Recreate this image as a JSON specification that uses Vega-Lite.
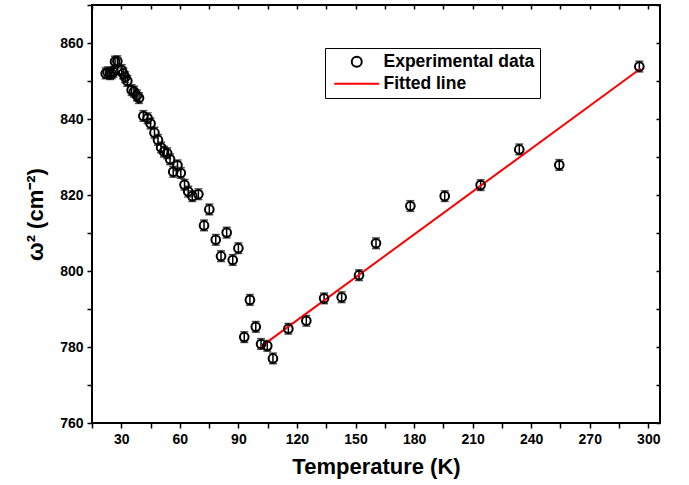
{
  "$schema": "https://vega.github.io/schema/vega-lite/v6.json",
  "width": 568,
  "height": 418,
  "autosize": {"type": "none"},
  "padding": {"left": 92, "top": 5, "right": 29, "bottom": 62},
  "background": "white",
  "config": {
    "view": {"stroke": "black", "strokeWidth": 2},
    "font": "Liberation Sans",
    "axis": {"grid": false, "domain": false, "tickColor": "black", "tickWidth": 1.5, "labelColor": "black", "titleColor": "black", "labelFont": "Liberation Sans", "titleFont": "Liberation Sans", "labelFontWeight": "bold", "titleFontWeight": "bold"}
  },
  "datasets": {
    "exp": [
      {"T": 22.0, "w": 852.0, "err": 1.4, "series": "Experimental data"},
      {"T": 23.0, "w": 852.3, "err": 1.4, "series": "Experimental data"},
      {"T": 24.2, "w": 851.8, "err": 1.4, "series": "Experimental data"},
      {"T": 25.1, "w": 852.0, "err": 1.4, "series": "Experimental data"},
      {"T": 26.0, "w": 852.4, "err": 1.4, "series": "Experimental data"},
      {"T": 26.8, "w": 855.1, "err": 1.4, "series": "Experimental data"},
      {"T": 28.0, "w": 855.2, "err": 1.4, "series": "Experimental data"},
      {"T": 30.2, "w": 852.9, "err": 1.4, "series": "Experimental data"},
      {"T": 31.0, "w": 852.0, "err": 1.4, "series": "Experimental data"},
      {"T": 32.0, "w": 851.0, "err": 1.4, "series": "Experimental data"},
      {"T": 33.1, "w": 850.0, "err": 1.4, "series": "Experimental data"},
      {"T": 35.3, "w": 847.6, "err": 1.4, "series": "Experimental data"},
      {"T": 36.5, "w": 847.2, "err": 1.4, "series": "Experimental data"},
      {"T": 38.0, "w": 846.2, "err": 1.4, "series": "Experimental data"},
      {"T": 39.1, "w": 845.5, "err": 1.4, "series": "Experimental data"},
      {"T": 41.3, "w": 840.8, "err": 1.4, "series": "Experimental data"},
      {"T": 43.5, "w": 840.2, "err": 1.4, "series": "Experimental data"},
      {"T": 45.0, "w": 838.8, "err": 1.4, "series": "Experimental data"},
      {"T": 47.0, "w": 836.4, "err": 1.4, "series": "Experimental data"},
      {"T": 48.8, "w": 834.5, "err": 1.4, "series": "Experimental data"},
      {"T": 50.4, "w": 832.5, "err": 1.4, "series": "Experimental data"},
      {"T": 51.9, "w": 831.4, "err": 1.4, "series": "Experimental data"},
      {"T": 53.5, "w": 831.0, "err": 1.4, "series": "Experimental data"},
      {"T": 55.0, "w": 829.4, "err": 1.4, "series": "Experimental data"},
      {"T": 56.6, "w": 826.1, "err": 1.4, "series": "Experimental data"},
      {"T": 58.8, "w": 827.8, "err": 1.4, "series": "Experimental data"},
      {"T": 60.5, "w": 825.8, "err": 1.4, "series": "Experimental data"},
      {"T": 62.4, "w": 822.7, "err": 1.4, "series": "Experimental data"},
      {"T": 64.3, "w": 820.9, "err": 1.4, "series": "Experimental data"},
      {"T": 66.4, "w": 819.7, "err": 1.4, "series": "Experimental data"},
      {"T": 69.5, "w": 820.2, "err": 1.4, "series": "Experimental data"},
      {"T": 72.4, "w": 812.0, "err": 1.4, "series": "Experimental data"},
      {"T": 75.1, "w": 816.2, "err": 1.4, "series": "Experimental data"},
      {"T": 78.4, "w": 808.2, "err": 1.4, "series": "Experimental data"},
      {"T": 81.1, "w": 803.9, "err": 1.4, "series": "Experimental data"},
      {"T": 84.0, "w": 810.1, "err": 1.4, "series": "Experimental data"},
      {"T": 87.1, "w": 802.9, "err": 1.4, "series": "Experimental data"},
      {"T": 90.0, "w": 806.0, "err": 1.4, "series": "Experimental data"},
      {"T": 93.0, "w": 782.6, "err": 1.4, "series": "Experimental data"},
      {"T": 95.9, "w": 792.4, "err": 1.4, "series": "Experimental data"},
      {"T": 98.9, "w": 785.3, "err": 1.4, "series": "Experimental data"},
      {"T": 101.6, "w": 780.8, "err": 1.4, "series": "Experimental data"},
      {"T": 104.8, "w": 780.3, "err": 1.4, "series": "Experimental data"},
      {"T": 107.7, "w": 777.0, "err": 1.4, "series": "Experimental data"},
      {"T": 115.6, "w": 784.8, "err": 1.4, "series": "Experimental data"},
      {"T": 124.8, "w": 786.9, "err": 1.4, "series": "Experimental data"},
      {"T": 133.9, "w": 792.8, "err": 1.4, "series": "Experimental data"},
      {"T": 142.9, "w": 793.1, "err": 1.4, "series": "Experimental data"},
      {"T": 151.8, "w": 798.9, "err": 1.4, "series": "Experimental data"},
      {"T": 160.5, "w": 807.3, "err": 1.4, "series": "Experimental data"},
      {"T": 178.1, "w": 817.1, "err": 1.4, "series": "Experimental data"},
      {"T": 195.7, "w": 819.7, "err": 1.4, "series": "Experimental data"},
      {"T": 214.1, "w": 822.6, "err": 1.4, "series": "Experimental data"},
      {"T": 233.9, "w": 832.0, "err": 1.4, "series": "Experimental data"},
      {"T": 254.4, "w": 827.9, "err": 1.4, "series": "Experimental data"},
      {"T": 295.4, "w": 853.8, "err": 1.4, "series": "Experimental data"}
    ],
    "fit": [
      {"T": 101.6, "w": 780.1, "series": "Fitted line"},
      {"T": 296.1, "w": 853.3, "series": "Fitted line"}
    ]
  },
  "layer": [
    {
      "data": {"name": "exp"},
      "mark": {"type": "errorbar", "color": "black", "thickness": 1.5, "ticks": {"size": 8, "thickness": 1.5, "color": "black"}},
      "encoding": {
        "x": {"field": "T", "type": "quantitative", "scale": {"domain": [15, 306], "nice": false, "zero": false},
          "axis": {"orient": "bottom", "values": [15, 30, 45, 60, 75, 90, 105, 120, 135, 150, 165, 180, 195, 210, 225, 240, 255, 270, 285, 300],
            "labelExpr": "datum.value % 30 === 0 ? datum.label : ''", "tickSize": 5, "labelFontSize": 14, "labelPadding": 4,
            "title": "Temperature (K)", "titleFontSize": 22, "titlePadding": 10}},
        "y": {"field": "w", "type": "quantitative", "scale": {"domain": [760, 870], "nice": false, "zero": false},
          "axis": {"orient": "left", "values": [760, 770, 780, 790, 800, 810, 820, 830, 840, 850, 860, 870],
            "labelExpr": "datum.value % 20 === 0 && datum.value < 870 ? datum.label : ''", "tickSize": 5, "labelFontSize": 14, "labelPadding": 4,
            "title": "ω² (cm⁻²)", "titleFontSize": 22, "titlePadding": 12}},
        "yError": {"field": "err"}
      }
    },
    {
      "data": {"name": "fit"},
      "mark": {"type": "line", "strokeWidth": 2},
      "encoding": {
        "x": {"field": "T", "type": "quantitative", "axis": null},
        "y": {"field": "w", "type": "quantitative", "axis": null},
        "color": {"field": "series", "type": "nominal", "scale": {"domain": ["Experimental data", "Fitted line"], "range": ["black", "#ff0000"]}}
      }
    },
    {
      "data": {"name": "exp"},
      "mark": {"type": "point", "filled": false, "size": 75, "strokeWidth": 2, "opacity": 1},
      "encoding": {
        "x": {"field": "T", "type": "quantitative",
          "axis": {"orient": "top", "values": [15, 30, 45, 60, 75, 90, 105, 120, 135, 150, 165, 180, 195, 210, 225, 240, 255, 270, 285, 300], "labels": false, "tickSize": 4, "offset": -4, "title": null}},
        "y": {"field": "w", "type": "quantitative",
          "axis": {"orient": "right", "values": [760, 770, 780, 790, 800, 810, 820, 830, 840, 850, 860, 870], "labels": false, "tickSize": 4, "offset": -4, "title": null}},
        "shape": {"field": "series", "type": "nominal", "scale": {"domain": ["Experimental data", "Fitted line"], "range": ["circle", "M-4.5,0L4.5,0"]}},
        "color": {"field": "series", "type": "nominal",
          "legend": {"orient": "none", "legendX": 233, "legendY": 43, "title": null, "labelFontSize": 17.5, "labelFontWeight": "bold", "labelColor": "black",
            "strokeColor": "black", "padding": 5, "rowPadding": 3, "symbolOffset": 18, "labelOffset": 18, "symbolStrokeWidth": 2, "values": ["Experimental data", "Fitted line"]}}
      }
    }
  ],
  "resolve": {"axis": {"x": "independent", "y": "independent"}}
}
